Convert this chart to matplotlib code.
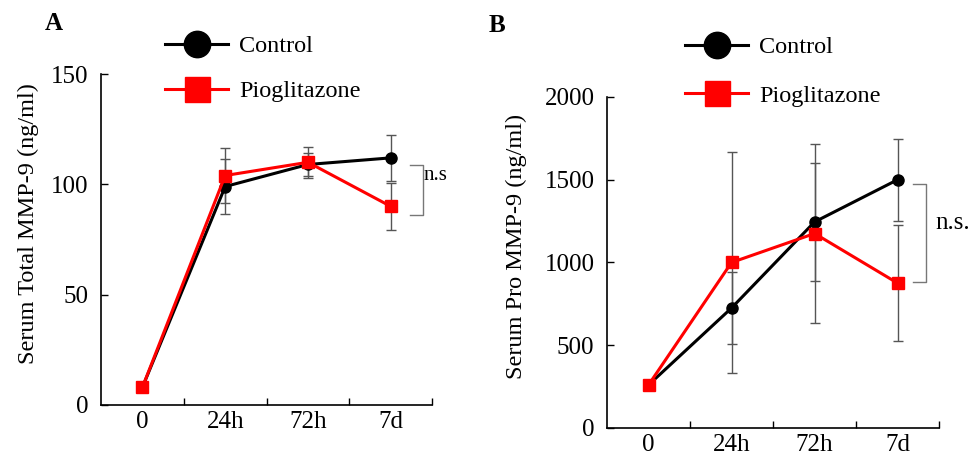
import matplotlib.pyplot as plt
from matplotlib.lines import Line2D

plt.rcParams['font.family'] = ['Liberation Serif', 'DejaVu Serif']

timepoints = ['0', '24h', '72h', '7d']

# Panel A: serum total MMP-9 (ng/ml)
total_control = [8, 99, 109, 112]
total_control_err = [0, 12.5, 5, 10.5]
total_pio = [8, 104, 110, 90]
total_pio_err = [0, 12.5, 7, 10.5]

# Panel B: serum pro MMP-9 (ng/ml)
pro_control = [260, 725, 1245, 1500]
pro_control_err = [0, 220, 358, 248]
pro_pio = [260, 1000, 1175, 875]
pro_pio_err = [0, 670, 540, 350]

fig = plt.figure(figsize=(9.74, 4.53), dpi=100)
axA = fig.add_axes([0.1037, 0.106, 0.340, 0.7306])
axB = fig.add_axes([0.6232, 0.0552, 0.341, 0.7308])


def draw_panel(ax, ctrl, ctrl_err, pio, pio_err, ymax, ystep, ylabel):
    x = list(range(len(timepoints)))
    # error bars first, thin gray
    ax.errorbar(x, ctrl, yerr=ctrl_err, fmt='none', ecolor='#555555',
                elinewidth=1, capsize=3.5, capthick=1, zorder=1)
    ax.errorbar(x, pio, yerr=pio_err, fmt='none', ecolor='#555555',
                elinewidth=1, capsize=3.5, capthick=1, zorder=1)
    ax.plot(x, ctrl, color='black', lw=2.2, marker='o', ms=8, zorder=3)
    ax.plot(x, pio, color='#ff0000', lw=2.2, marker='s', ms=9, zorder=4)

    ax.set_xlim(-0.5, 3.5)
    ax.set_ylim(0, ymax)
    ax.set_yticks(range(0, ymax + 1, ystep))
    ax.set_xticks(x)
    ax.set_xticklabels(timepoints)
    ax.set_xticks([0.5, 1.5, 2.5, 3.5], minor=True)
    ax.tick_params(axis='x', which='major', length=0, pad=4, labelsize=18)
    ax.tick_params(axis='x', which='minor', direction='in', length=5, width=1)
    ax.tick_params(axis='y', direction='in', length=5, width=1, pad=9, labelsize=18)
    for s in ['top', 'right']:
        ax.spines[s].set_visible(False)
    for s in ['left', 'bottom']:
        ax.spines[s].set_linewidth(1.2)
    ax.set_ylabel(ylabel, fontsize=17.5)


draw_panel(axA, total_control, total_control_err, total_pio, total_pio_err,
           150, 50, 'Serum Total MMP-9 (ng/ml)')
draw_panel(axB, pro_control, pro_control_err, pro_pio, pro_pio_err,
           2000, 500, 'Serum Pro MMP-9 (ng/ml)')
axA.yaxis.set_label_coords(-0.188, 0.547)
axB.yaxis.set_label_coords(-0.241, 0.547)

# significance brackets
axA.plot([3.23, 3.39, 3.39, 3.23], [108.7, 108.7, 86, 86], color='#777777',
         lw=1, clip_on=False)
axA.text(3.39, 104, 'n.s', fontsize=15, ha='left', va='center')
axB.plot([3.19, 3.34, 3.34, 3.19], [1474, 1474, 882, 882], color='#777777',
         lw=1, clip_on=False)
axB.text(3.46, 1239, 'n.s.', fontsize=18, ha='left', va='center')

# legends above each panel
handles = [
    Line2D([], [], color='black', lw=2.2, marker='o', ms=19),
    Line2D([], [], color='#ff0000', lw=2.2, marker='s', ms=18),
]
labels = ['Control', 'Pioglitazone']
for ax, anchor, spacing in [(axA, (165 / 974, 1 - 35 / 453), 0.95),
                            (axB, (685 / 974, 1 - 36 / 453), 1.1)]:
    ax.legend(handles, labels, loc='upper left', bbox_to_anchor=anchor,
              bbox_transform=fig.transFigure, frameon=False, fontsize=17.5,
              handlelength=2.6, handletextpad=0.45, labelspacing=spacing,
              borderpad=0, borderaxespad=0)

fig.text(45 / 974, 1 - 23 / 453, 'A', fontsize=18, fontweight='bold', va='center')
fig.text(489 / 974, 1 - 25 / 453, 'B', fontsize=18, fontweight='bold', va='center')

fig.savefig('out.png', dpi=100)
